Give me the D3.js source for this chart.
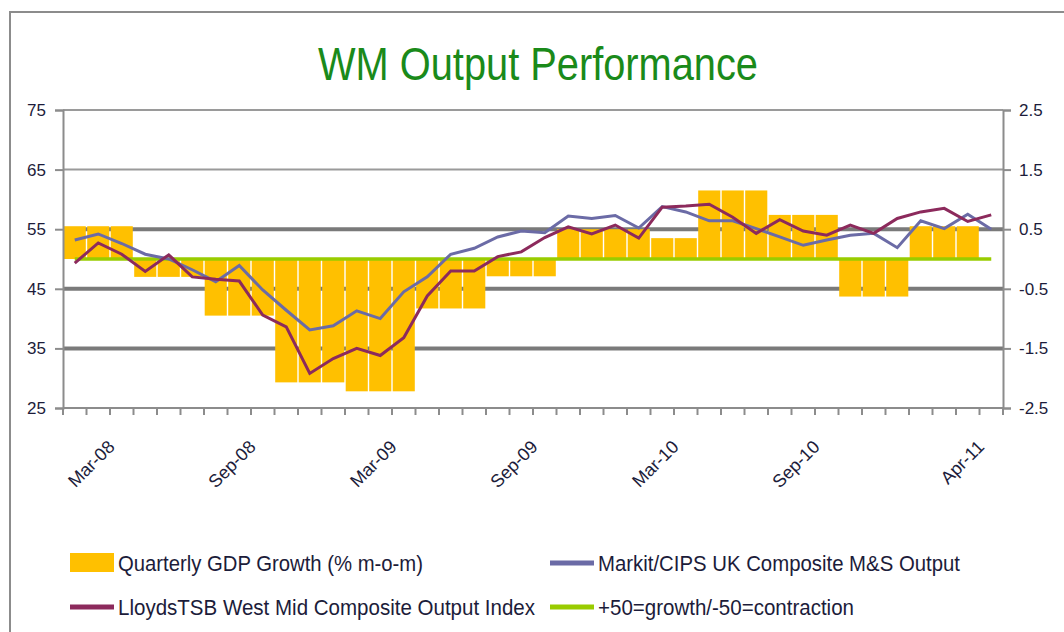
<!DOCTYPE html>
<html lang="en">
<head>
<meta charset="utf-8">
<title>WM Output Performance</title>
<script src="https://d3js.org/d3.v7.min.js"></script>
<style>
  body { margin: 0; background: #fff; }
  text { font-family: "Liberation Sans Narrow", "Liberation Sans", Arial, sans-serif; }
</style>
</head>
<body>
<script>
// monthly categories, Jan-08 .. Apr-11
var months = ["Jan-08","Feb-08","Mar-08","Apr-08","May-08","Jun-08","Jul-08","Aug-08","Sep-08","Oct-08","Nov-08","Dec-08",
              "Jan-09","Feb-09","Mar-09","Apr-09","May-09","Jun-09","Jul-09","Aug-09","Sep-09","Oct-09","Nov-09","Dec-09",
              "Jan-10","Feb-10","Mar-10","Apr-10","May-10","Jun-10","Jul-10","Aug-10","Sep-10","Oct-10","Nov-10","Dec-10",
              "Jan-11","Feb-11","Mar-11","Apr-11"];
var tickLabels = ["Mar-08","Sep-08","Mar-09","Sep-09","Mar-10","Sep-10","Apr-11"];

// right axis, % growth
var gdp = [0.55,0.55,0.55,-0.3,-0.3,-0.3,-0.95,-0.95,-0.95,-2.07,-2.07,-2.07,
           -2.22,-2.22,-2.22,-0.83,-0.83,-0.83,-0.29,-0.29,-0.29,0.5,0.5,0.5,
           0.5,0.35,0.35,1.15,1.15,1.15,0.74,0.74,0.74,-0.63,-0.63,-0.63,
           0.55,0.55,0.55,null];

// left axis, index
var markit = [53.2,54.2,52.6,50.8,50.0,48.2,46.2,48.9,44.8,41.4,38.1,38.8,
              41.3,40.0,44.5,47.0,50.8,51.8,53.7,54.7,54.4,57.2,56.8,57.3,
              55.2,58.8,57.9,56.4,56.4,55.1,53.7,52.3,53.2,54.0,54.3,51.9,
              56.4,55.1,57.5,55.0];
var lloyds = [49.3,52.7,50.8,47.9,50.7,47.0,46.6,46.3,40.6,38.6,30.8,33.3,
              35.0,33.8,36.8,43.8,48.0,48.0,50.4,51.2,53.6,55.4,54.2,55.7,
              53.5,58.7,58.9,59.2,57.0,54.3,56.6,54.7,54.0,55.7,54.3,56.8,
              57.9,58.5,56.3,57.4];
var leftTicks = [25,35,45,55,65,75];
var rightTicks = [-2.5,-1.5,-0.5,0.5,1.5,2.5];

var width = 1064, height = 632;
var svg = d3.select("body").append("svg")
    .attr("width", width)
    .attr("height", height);

// outer frame
svg.append("rect")
    .attr("x", 10).attr("y", 12)
    .attr("width", 1100).attr("height", 700)
    .attr("fill", "none")
    .attr("stroke", "#8c8c8c")
    .attr("stroke-width", 2);

svg.append("text")
    .attr("x", 318).attr("y", 80)
    .attr("textLength", 440)
    .attr("lengthAdjust", "spacingAndGlyphs")
    .attr("font-size", 46)
    .attr("fill", "#1a8a1a")
    .text("WM Output Performance");

var pLeft = 63, pRight = 1003, pTop = 110, pBottom = 408;

var x = d3.scaleBand().domain(months).range([pLeft, pRight]).paddingInner(0.06).paddingOuter(0.03);
var yL = d3.scaleLinear().domain([25, 75]).range([pBottom, pTop]);
var yR = d3.scaleLinear().domain([-2.5, 2.5]).range([pBottom, pTop]);
var step = x.step();
var cx = function (m) { return x(m) + x.bandwidth() / 2; };

// gridlines
svg.append("g").selectAll("line")
    .data(leftTicks.filter(function (d) { return d > 25; }))
    .enter().append("line")
    .attr("x1", pLeft).attr("x2", pRight)
    .attr("y1", function (d) { return yL(d); })
    .attr("y2", function (d) { return yL(d); })
    .attr("stroke", function (d) { return d > 55 ? "#9a9a9a" : "#7a7a7a"; })
    .attr("stroke-width", function (d) { return d > 55 ? 2 : 4; });

// GDP bars
svg.append("g").selectAll("rect")
    .data(months.map(function (m, i) { return { m: m, v: gdp[i] }; })
        .filter(function (d) { return d.v !== null; }))
    .enter().append("rect")
    .attr("x", function (d) { return x(d.m); })
    .attr("width", x.bandwidth())
    .attr("y", function (d) { return yR(Math.max(0, d.v)); })
    .attr("height", function (d) { return Math.abs(yR(d.v) - yR(0)); })
    .attr("fill", "#ffc000");

// axes
var axL = svg.append("g")
    .attr("transform", "translate(" + pLeft + ",0)")
    .call(d3.axisLeft(yL).tickValues(leftTicks).tickSize(8).tickPadding(9));
var axR = svg.append("g")
    .attr("transform", "translate(" + pRight + ",0)")
    .call(d3.axisRight(yR).tickValues(rightTicks).tickSize(8).tickPadding(8)
        .tickFormat(function (d) { return d.toFixed(1); }));
[axL, axR].forEach(function (ax) {
    ax.select(".domain").attr("stroke", "#8c8c8c").attr("stroke-width", 2);
    ax.selectAll(".tick line").attr("stroke", "#8c8c8c").attr("stroke-width", 2);
    ax.selectAll(".tick text")
        .attr("font-size", 17)
        .attr("fill", "#1c1c3a")
        .style("font-family", "'Liberation Sans Narrow', 'Liberation Sans', Arial, sans-serif");
});

// x axis: baseline, boundary ticks and labels
svg.append("line")
    .attr("x1", pLeft).attr("x2", pRight)
    .attr("y1", pBottom).attr("y2", pBottom)
    .attr("stroke", "#8c8c8c").attr("stroke-width", 2);
svg.append("g").selectAll("line")
    .data(months.concat(["end"]))
    .enter().append("line")
    .attr("x1", function (m, i) { return pLeft + i * step; })
    .attr("x2", function (m, i) { return pLeft + i * step; })
    .attr("y1", pBottom).attr("y2", pBottom + 7)
    .attr("stroke", "#8c8c8c").attr("stroke-width", 2);
svg.append("g").selectAll("text")
    .data(tickLabels)
    .enter().append("text")
    .attr("transform", function (m) {
        return "translate(" + (cx(m) - 6) + "," + (pBottom + 40) + ") rotate(-45)";
    })
    .attr("text-anchor", "end")
    .attr("font-size", 18)
    .attr("fill", "#1c1c3a")
    .text(function (m) { return m; });

// lines
var line = d3.line()
    .x(function (d) { return cx(d.m); })
    .y(function (d) { return yL(d.v); });
var asPts = function (arr) { return months.map(function (m, i) { return { m: m, v: arr[i] }; }); };

svg.append("path")
    .datum(asPts(months.map(function () { return 50; })))
    .attr("d", line)
    .attr("fill", "none")
    .attr("stroke", "#99cc00")
    .attr("stroke-width", 3.5);
svg.append("path")
    .datum(asPts(markit))
    .attr("d", line)
    .attr("fill", "none")
    .attr("stroke", "#6b6ba6")
    .attr("stroke-width", 3);
svg.append("path")
    .datum(asPts(lloyds))
    .attr("d", line)
    .attr("fill", "none")
    .attr("stroke", "#8c2a5c")
    .attr("stroke-width", 3);

// legend
var legend = [
    { name: "Quarterly GDP Growth (% m-o-m)", kind: "box", color: "#ffc000", x: 70, y: 563, w: 305 },
    { name: "Markit/CIPS UK Composite M&S Output", kind: "line", color: "#6b6ba6", x: 550, y: 563, w: 362 },
    { name: "LloydsTSB West Mid Composite Output Index", kind: "line", color: "#8c2a5c", x: 70, y: 607, w: 417 },
    { name: "+50=growth/-50=contraction", kind: "line", color: "#99cc00", x: 550, y: 607, w: 256 }
];
var lg = svg.append("g").selectAll("g")
    .data(legend)
    .enter().append("g")
    .attr("transform", function (d) { return "translate(" + d.x + "," + d.y + ")"; });
lg.filter(function (d) { return d.kind === "box"; })
    .append("rect")
    .attr("x", 0).attr("y", -10).attr("width", 44).attr("height", 19)
    .attr("fill", function (d) { return d.color; });
lg.filter(function (d) { return d.kind === "line"; })
    .append("line")
    .attr("x1", 0).attr("x2", 44).attr("y1", 0).attr("y2", 0)
    .attr("stroke", function (d) { return d.color; })
    .attr("stroke-width", 5);
lg.append("text")
    .attr("x", 48).attr("y", 8)
    .attr("font-size", 22)
    .attr("fill", "#1c1c3a")
    .attr("textLength", function (d) { return d.w; })
    .attr("lengthAdjust", "spacingAndGlyphs")
    .text(function (d) { return d.name; });
</script>
</body>
</html>
